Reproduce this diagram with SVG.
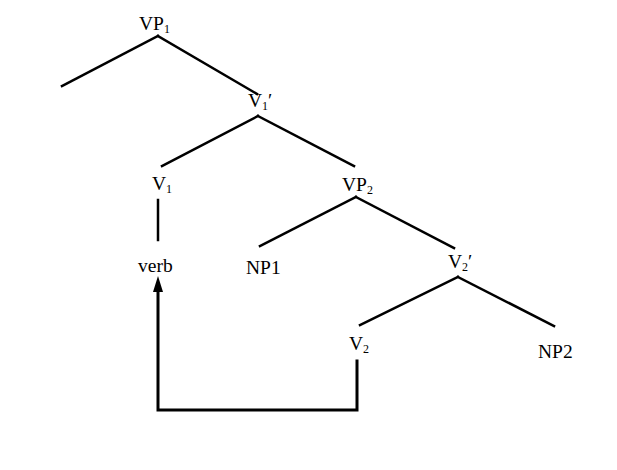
<svg xmlns="http://www.w3.org/2000/svg" width="617" height="470" viewBox="0 0 617 470">
<defs>
<style>
.t{font-family:"Liberation Serif","Times New Roman",serif;font-size:19.5px;fill:#000}
.s{font-size:12px}
.e{stroke:#000;stroke-width:2.5;fill:none;stroke-linecap:square}
</style>
</defs>
<rect width="617" height="470" fill="#fff"/>
<g id="connectors">
<line class="e" x1="158" y1="36" x2="62" y2="86"/>
<line class="e" x1="158" y1="36" x2="257" y2="94"/>
<line class="e" x1="258" y1="116" x2="162" y2="166"/>
<line class="e" x1="258" y1="116" x2="354" y2="166"/>
<line class="e" x1="158" y1="200" x2="158" y2="240"/>
<line class="e" x1="356" y1="197" x2="260" y2="246"/>
<line class="e" x1="356" y1="197" x2="454" y2="248"/>
<line class="e" x1="458" y1="277" x2="360" y2="325"/>
<line class="e" x1="458" y1="277" x2="554" y2="326"/>
<path class="e" d="M357,361 V410 H158 V290" style="stroke-width:3"/>
<path d="M158,276 L153,292 L163,292 Z" fill="#000"/>
</g>
<g id="VP1"><text class="t" x="139" y="30">VP<tspan class="s" dy="3">1</tspan></text></g>
<g id="V1bar"><text class="t" x="248" y="107">V<tspan class="s" dy="3">1</tspan><tspan dy="-3">′</tspan></text></g>
<g id="V1"><text class="t" x="152" y="190">V<tspan class="s" dy="3">1</tspan></text></g>
<g id="VP2"><text class="t" x="342" y="191">VP<tspan class="s" dy="3">2</tspan></text></g>
<g id="verb"><text class="t" x="138" y="272">verb</text></g>
<g id="NP1"><text class="t" x="246" y="274">NP1</text></g>
<g id="V2bar"><text class="t" x="448" y="268">V<tspan class="s" dy="3">2</tspan><tspan dy="-3">′</tspan></text></g>
<g id="V2"><text class="t" x="349" y="350">V<tspan class="s" dy="3">2</tspan></text></g>
<g id="NP2"><text class="t" x="538" y="358">NP2</text></g>
</svg>
